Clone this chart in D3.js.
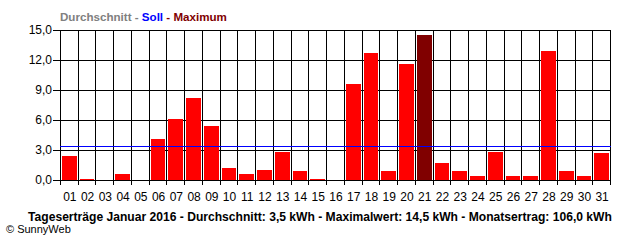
<!DOCTYPE html>
<html><head><meta charset="utf-8">
<script src="https://cdn.jsdelivr.net/npm/d3@7"></script>
<style>body{margin:0;background:#fff}svg{display:block}</style>
</head><body>
<svg id="c" width="640" height="240"></svg>
<script>
const days = ["01","02","03","04","05","06","07","08","09","10","11","12","13","14","15","16","17","18","19","20","21","22","23","24","25","26","27","28","29","30","31"];
const values = [2.4,0.1,0,0.6,0,4.1,6.1,8.2,5.4,1.2,0.6,1.0,2.8,0.9,0.1,0,9.6,12.7,0.9,11.6,14.5,1.7,0.9,0.4,2.8,0.4,0.4,12.9,0.9,0.4,2.7];
const soll = 3.4;
const yTicks = [0,3,6,9,12,15];
const title = "Tageserträge Januar 2016 - Durchschnitt: 3,5 kWh - Maximalwert: 14,5 kWh - Monatsertrag: 106,0 kWh";

const svg = d3.select("#c");
const L=60,R=610,T=30,B=180;
const x = d3.scaleBand().domain(days).range([L,R]).paddingInner(0).paddingOuter(0);
const y = d3.scaleLinear().domain([0,15]).range([B,T]);
const maxV = d3.max(values);

// grid
const g = svg.append("g").attr("stroke","#000").attr("stroke-width",1).attr("shape-rendering","crispEdges");
const bounds = days.map(d=>Math.round(x(d))).concat([R]);
g.selectAll("line.v").data(bounds).join("line").attr("class","v")
  .attr("x1",d=>d+0.5).attr("x2",d=>d+0.5).attr("y1",T).attr("y2",B+5);
g.selectAll("line.h").data(yTicks).join("line").attr("class","h")
  .attr("x1",L-7).attr("x2",R+1).attr("y1",d=>Math.round(y(d))+0.5).attr("y2",d=>Math.round(y(d))+0.5);

// bars
svg.append("g").selectAll("rect").data(values).join("rect")
  .attr("x",(d,i)=>Math.round(x(days[i]))+2)
  .attr("width",(d,i)=>Math.round(x(days[i])+x.bandwidth())-Math.round(x(days[i]))-3)
  .attr("y",d=>Math.round(y(d)))
  .attr("height",d=>B-Math.round(y(d)))
  .attr("fill",d=>d===maxV?"#800000":"#ff0000");

// soll line
svg.append("line").attr("x1",L).attr("x2",R+1).attr("y1",Math.round(y(soll))+0.5).attr("y2",Math.round(y(soll))+0.5)
  .attr("stroke","#0000ff").attr("stroke-width",1).attr("shape-rendering","crispEdges");

// y labels
svg.append("g").selectAll("text").data(yTicks).join("text")
  .attr("x",52).attr("y",d=>y(d)+4).attr("text-anchor","end")
  .attr("font-family","Liberation Sans, Arial, sans-serif").attr("font-size",12)
  .text(d=>d3.format(".1f")(d).replace(".",","));

// x labels
svg.append("g").selectAll("text").data(days).join("text")
  .attr("x",d=>x(d)+x.bandwidth()/2+1).attr("y",201).attr("text-anchor","middle")
  .attr("font-family","Liberation Sans, Arial, sans-serif").attr("font-size",12)
  .text(d=>d);

// legend
const lg = svg.append("text").attr("x",60).attr("y",21).attr("font-family","Liberation Sans, Arial, sans-serif")
  .attr("font-size",11.6).attr("font-weight","bold");
[["Durchschnitt","#808080"],[" - ","#808080"],["Soll","#0000ff"],[" - ","#800000"],["Maximum","#800000"]]
  .forEach(([t,c])=>lg.append("tspan").attr("fill",c).text(t));

// title
svg.append("text").attr("x",320).attr("y",221).attr("text-anchor","middle")
  .attr("font-family","Liberation Sans, Arial, sans-serif").attr("font-size",12.1).attr("font-weight","bold")
  .text(title);

svg.append("text").attr("x",6).attr("y",233)
  .attr("font-family","Liberation Sans, Arial, sans-serif").attr("font-size",11)
  .text("© SunnyWeb");
</script>
</body></html>
